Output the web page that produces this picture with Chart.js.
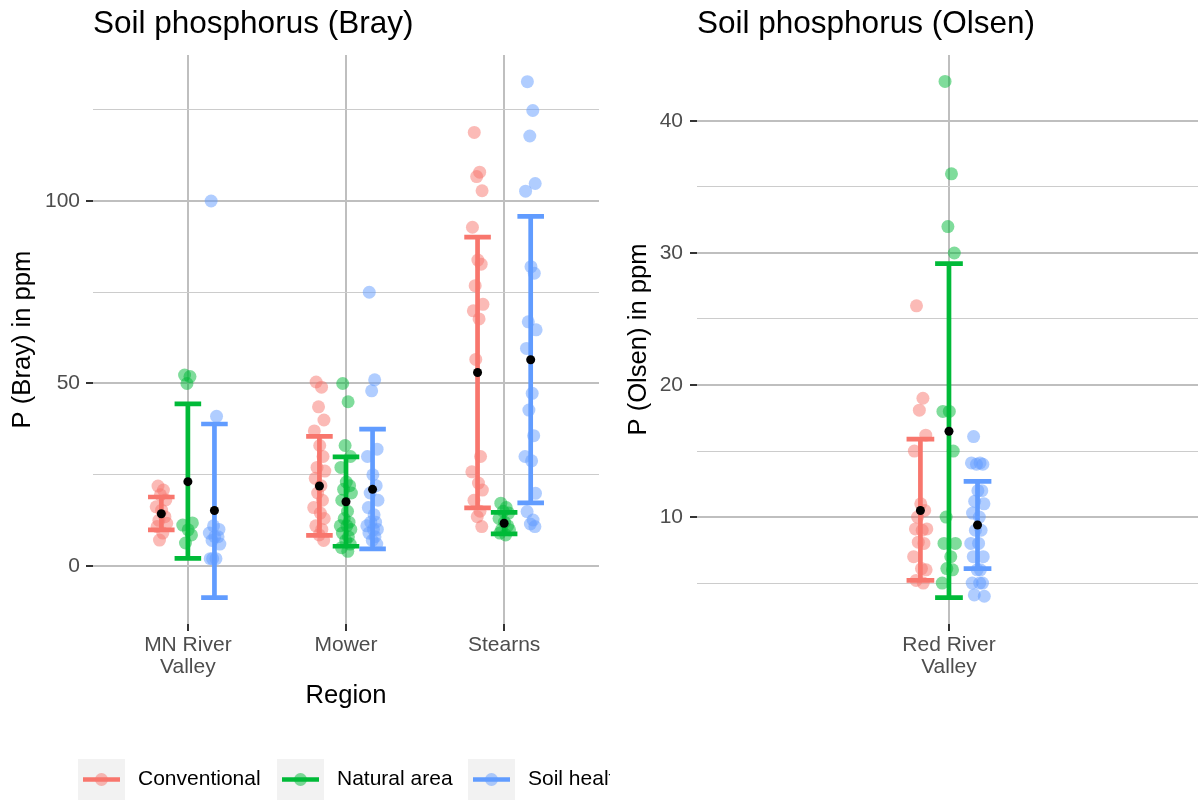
<!DOCTYPE html>
<html><head><meta charset="utf-8">
<script src="https://cdn.jsdelivr.net/npm/chart.js@4.4.1/dist/chart.umd.min.js"></script>
<style>
html,body{margin:0;padding:0;background:#fff;overflow:hidden}
#wrap{position:relative;width:1198px;height:800px;background:#fff}
#c1{position:absolute;left:0;top:0}
#c2{position:absolute;left:610px;top:0}
</style></head><body>
<div id="wrap"><canvas id="c1" width="610" height="800"></canvas><canvas id="c2" width="588" height="800"></canvas></div>
<script>
// ---------------- DATA ----------------
const groups = ['Conventional', 'Natural area', 'Soil health'];
const colors = ['#F8766D', '#00BA38', '#619CFF'];

// Bray panel
const brayRegions = ['MN River Valley', 'Mower', 'Stearns'];
const brayTickLabels = [['MN River', 'Valley'], ['Mower'], ['Stearns']];
const brayMajorTicks = [0, 50, 100];
const brayGridValues = [0, 25, 50, 75, 100, 125];

const brayConventional = [
  [21.9, 20.8, 19.5, 18.1, 16.2, 15.3, 13.5, 12.5, 11.7, 10.8, 9.0, 7.1],
  [50.4, 49.0, 43.6, 40.0, 37.0, 33.0, 30.0, 27.0, 26.0, 24.0, 22.0, 20.0, 18.0, 16.0, 14.5, 13.0, 11.0, 10.0, 8.5, 7.0],
  [118.8, 107.9, 106.7, 102.8, 92.8, 83.8, 82.7, 76.8, 71.7, 69.9, 67.7, 56.6, 30.0, 25.8, 22.7, 20.8, 18.0, 15.0, 13.5, 10.8]
];
const brayNatural = [
  [52.3, 51.9, 50.0, 11.8, 11.2, 9.9, 8.5, 6.3],
  [50.0, 45.0, 33.0, 30.0, 27.0, 23.0, 22.0, 21.0, 20.0, 18.0, 15.0, 13.0, 12.0, 11.0, 11.0, 10.0, 9.0, 8.0, 7.0, 6.0, 5.0, 4.0],
  [17.2, 16.0, 15.0, 14.5, 13.0, 12.0, 11.0, 10.0, 9.9, 9.0, 8.5]
];
const braySoilHealth = [
  [100.0, 41.0, 11.0, 10.0, 9.0, 8.0, 8.0, 7.0, 6.0, 2.0, 2.0, 2.0],
  [75.0, 51.0, 48.0, 32.0, 30.0, 25.0, 22.0, 20.0, 18.0, 16.0, 14.0, 12.0, 12.0, 11.0, 10.0, 10.0, 9.0, 8.0, 7.0, 6.0],
  [132.7, 124.8, 117.8, 104.8, 102.7, 82.0, 80.2, 66.9, 64.7, 59.6, 47.3, 42.7, 35.7, 30.0, 28.8, 19.9, 14.9, 12.6, 11.5, 10.8]
];
const brayMeanConventional = [14.3, 21.9, 53.0];
const brayMeanNatural = [23.1, 17.6, 11.7];
const brayMeanSoilHealth = [15.2, 21.0, 56.5];
const brayLowConventional = [9.9, 8.4, 15.9];
const brayHighConventional = [18.9, 35.5, 90.1];
const brayLowNatural = [2.1, 5.4, 8.8];
const brayHighNatural = [44.4, 29.9, 14.7];
const brayLowSoilHealth = [-8.7, 4.7, 17.3];
const brayHighSoilHealth = [38.9, 37.5, 95.8];

// Olsen panel
const olsenRegions = ['Red River Valley'];
const olsenTickLabels = [['Red River', 'Valley']];
const olsenMajorTicks = [10, 20, 30, 40];
const olsenGridValues = [5, 10, 15, 20, 25, 30, 35, 40];

const olsenConventional = [
  [26.0, 19.0, 18.1, 16.2, 15.0, 11.0, 10.5, 10.0, 9.1, 9.1, 9.0, 8.1, 8.0, 7.0, 6.1, 6.0, 5.2, 5.0]
];
const olsenNatural = [
  [43.0, 36.0, 32.0, 30.0, 18.0, 18.0, 15.0, 10.0, 8.0, 8.0, 7.0, 6.1, 6.0, 5.0]
];
const olsenSoilHealth = [
  [16.1, 14.1, 14.0, 14.0, 14.1, 12.0, 12.0, 11.2, 11.0, 10.3, 10.0, 9.0, 9.0, 8.0, 8.0, 7.0, 7.0, 6.0, 6.0, 5.0, 5.0, 5.0, 4.1, 4.0]
];
const olsenMeanConventional = [10.5];
const olsenMeanNatural = [16.5];
const olsenMeanSoilHealth = [9.4];
const olsenLowConventional = [5.2];
const olsenHighConventional = [15.9];
const olsenLowNatural = [3.9];
const olsenHighNatural = [29.2];
const olsenLowSoilHealth = [6.1];
const olsenHighSoilHealth = [12.7];

// hand-set jitter pattern (fractions of the jitter half-width)
const JITTER = [-0.55, 0.35, -0.15, 0.75, -0.85, 0.05, 0.6, -0.4, 0.9, -0.7, 0.25, -0.3, 0.5, -0.95, 0.15, 0.8, -0.6, 0.4, -0.05, 0.7, -0.75, 0.3, -0.45, 0.95];

// ---------------- STYLE / HELPERS ----------------
const FONT = "'Liberation Sans', Arial, Helvetica, sans-serif";
Chart.defaults.font.family = FONT;

function withAlpha(hex, a) {
  const n = parseInt(hex.slice(1), 16);
  return `rgba(${(n >> 16) & 255},${(n >> 8) & 255},${n & 255},${a})`;
}

function buildDatasets(values, means, lows, highs, dodge, jitterHalf, capHalf) {
  const pointsDs = [], barDs = [];
  const meanPts = [];
  groups.forEach((g, gi) => {
    const pts = [];
    values[gi].forEach((arr, ri) => {
      arr.forEach((v, k) => {
        pts.push({ x: ri + 1 + dodge[gi] + JITTER[k % JITTER.length] * jitterHalf, y: v });
      });
    });
    pointsDs.push({
      label: g, data: pts, backgroundColor: withAlpha(colors[gi], 0.5),
      pointRadius: 6.5, pointBorderWidth: 0, order: 3
    });
    const eb = [];
    means[gi].forEach((m, ri) => {
      const cx = ri + 1 + dodge[gi];
      const lo = lows[gi][ri], hi = highs[gi][ri];
      eb.push({ x: cx, y: lo }, { x: cx, y: hi }, { x: cx, y: null },
              { x: cx - capHalf, y: hi }, { x: cx + capHalf, y: hi }, { x: cx, y: null },
              { x: cx - capHalf, y: lo }, { x: cx + capHalf, y: lo }, { x: cx, y: null });
      meanPts.push({ x: cx, y: m });
    });
    barDs.push({
      label: g + ' sd', data: eb, showLine: true, borderColor: colors[gi], borderWidth: 4.7,
      pointRadius: 0, spanGaps: false, borderCapStyle: 'butt', order: 2
    });
  });
  const meanDs = { label: 'mean', data: meanPts, backgroundColor: '#000', pointRadius: 4.5, pointBorderWidth: 0, order: 1 };
  return [...pointsDs, ...barDs, meanDs];
}

const ggLegend = {
  id: 'ggLegend',
  afterDraw(chart, args, opts) {
    if (!opts || !opts.show) return;
    const ctx = chart.ctx;
    ctx.save();
    groups.forEach((g, gi) => {
      const x = opts.xs[gi];
      const cy = opts.top + opts.h / 2;
      ctx.fillStyle = '#f2f2f2';
      ctx.fillRect(x, opts.top, opts.w, opts.h);
      ctx.strokeStyle = colors[gi];
      ctx.lineWidth = 4.7;
      ctx.beginPath(); ctx.moveTo(x + 5, cy); ctx.lineTo(x + opts.w - 5, cy); ctx.stroke();
      ctx.fillStyle = withAlpha(colors[gi], 0.5);
      ctx.beginPath(); ctx.arc(x + opts.w / 2, cy, 6.5, 0, Math.PI * 2); ctx.fill();
      ctx.fillStyle = '#000';
      ctx.font = `21px ${FONT}`;
      ctx.textBaseline = 'middle';
      ctx.textAlign = 'left';
      ctx.fillText(g, x + opts.w + 13, cy);
    });
    ctx.restore();
  }
};

function makeChart(canvas, cfg) {
  const isMajor = (v) => cfg.major.includes(v);
  return new Chart(canvas, {
    type: 'scatter',
    data: { datasets: buildDatasets(cfg.values, cfg.means, cfg.lows, cfg.highs, cfg.dodge, cfg.jitter, cfg.cap) },
    options: {
      responsive: false, animation: false, devicePixelRatio: 1, events: [],
      layout: { padding: cfg.padding, autoPadding: false },
      plugins: {
        legend: { display: false }, tooltip: { enabled: false },
        title: {
          display: true, text: cfg.title, align: 'start', fullSize: false, color: '#000',
          font: { size: 31.5, weight: 'normal', lineHeight: 1.2 }, padding: { top: 5.5, bottom: 11.7 }
        },
        ggLegend: cfg.legend
      },
      scales: {
        x: {
          type: 'linear', min: cfg.xmin, max: cfg.xmax,
          afterBuildTicks: (s) => { s.ticks = cfg.tickLabels.map((t, i) => ({ value: i + 1 })); },
          afterFit: (s) => { s.height = 96; },
          ticks: {
            callback: (v, i) => cfg.tickLabels[i], color: '#4d4d4d', padding: 3,
            font: { size: 21, lineHeight: 1.05 }, maxRotation: 0, autoSkip: false
          },
          grid: { color: '#bfbfbf', lineWidth: 2, tickColor: '#333333', tickLength: 7, tickWidth: 2 },
          border: { display: false },
          title: {
            display: !!cfg.xTitle, text: cfg.xTitle || '', color: '#000',
            font: { size: 25.6, lineHeight: 1.2 }, padding: { top: 0, bottom: 8.6 }
          }
        },
        y: {
          type: 'linear', min: cfg.ymin, max: cfg.ymax,
          afterBuildTicks: (s) => { s.ticks = cfg.grid.map(v => ({ value: v })); },
          afterFit: (s) => { s.width = cfg.yWidth; },
          ticks: {
            callback: (v) => isMajor(v) ? String(v) : '', color: '#4d4d4d', padding: cfg.yPad,
            font: { size: 21 }, autoSkip: false
          },
          grid: {
            color: (c) => isMajor(c.tick && c.tick.value) ? '#bfbfbf' : '#cccccc',
            lineWidth: (c) => isMajor(c.tick && c.tick.value) ? 2 : 1.1,
            tickColor: (c) => isMajor(c.tick && c.tick.value) ? '#333333' : 'rgba(0,0,0,0)',
            tickLength: 7, tickWidth: 2
          },
          border: { display: false },
          title: {
            display: true, text: cfg.yTitle, color: '#000',
            font: { size: 25.6, lineHeight: 1.2 }, padding: { top: cfg.yTitlePad, bottom: 0 }
          }
        }
      }
    },
    plugins: [ggLegend]
  });
}

makeChart(document.getElementById('c1'), {
  title: 'Soil phosphorus (Bray)',
  values: [brayConventional, brayNatural, braySoilHealth],
  means: [brayMeanConventional, brayMeanNatural, brayMeanSoilHealth],
  lows: [brayLowConventional, brayLowNatural, brayLowSoilHealth],
  highs: [brayHighConventional, brayHighNatural, brayHighSoilHealth],
  dodge: [-0.168, 0, 0.168], jitter: 0.038, cap: 0.084,
  tickLabels: brayTickLabels, major: brayMajorTicks, grid: brayGridValues,
  xmin: 0.4, xmax: 3.6, ymin: -15.9, ymax: 140,
  xTitle: 'Region', yTitle: 'P (Bray) in ppm', yTitlePad: 8, yWidth: 93, yPad: 6,
  padding: { left: 0, right: 11, top: 0, bottom: 80 },
  legend: { show: true, xs: [78, 277, 468], w: 47, top: 759, h: 41 }
});

makeChart(document.getElementById('c2'), {
  title: 'Soil phosphorus (Olsen)',
  values: [olsenConventional, olsenNatural, olsenSoilHealth],
  means: [olsenMeanConventional, olsenMeanNatural, olsenMeanSoilHealth],
  lows: [olsenLowConventional, olsenLowNatural, olsenLowSoilHealth],
  highs: [olsenHighConventional, olsenHighNatural, olsenHighSoilHealth],
  dodge: [-0.068, 0, 0.068], jitter: 0.017, cap: 0.033,
  tickLabels: olsenTickLabels, major: olsenMajorTicks, grid: olsenGridValues,
  xmin: 0.4, xmax: 1.593, ymin: 1.9, ymax: 45,
  xTitle: '', yTitle: 'P (Olsen) in ppm', yTitlePad: 13.6, yWidth: 87, yPad: 7,
  padding: { left: 0, right: 0, top: 0, bottom: 80 },
  legend: { show: false }
});
</script>
</body></html>
